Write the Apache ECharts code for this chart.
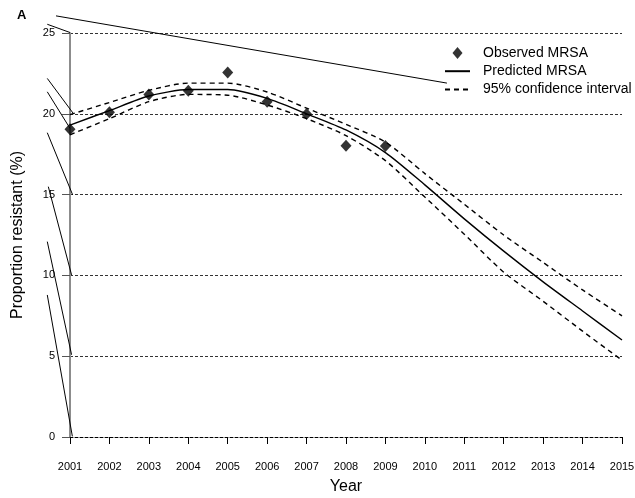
<!DOCTYPE html>
<html>
<head>
<meta charset="utf-8">
<script src="https://cdn.jsdelivr.net/npm/echarts@6/dist/echarts.min.js"></script>
<style>
html,body{margin:0;padding:0;background:#fff;}
#chart{width:635px;height:498px;}
</style>
</head>
<body>
<div id="chart"></div>
<script>
// ---- data ----
const years = [2001,2002,2003,2004,2005,2006,2007,2008,2009,2010,2011,2012,2013,2014,2015];
const observedYears = [2001,2002,2003,2004,2005,2006,2007,2008,2009];
const observed = [19.05,20.1,21.2,21.42,22.56,20.75,19.98,18.02,18.0];
const predicted = [19.3,20.2,21.1,21.5,21.5,20.95,20.0,19.0,17.6,15.6,13.5,11.5,9.6,7.8,6.0];
const upperCI = [19.95,20.7,21.45,21.9,21.9,21.35,20.35,19.35,18.25,16.3,14.4,12.5,10.8,9.1,7.5];
const lowerCI = [18.7,19.7,20.75,21.2,21.15,20.55,19.7,18.65,17.1,14.85,12.55,10.2,8.4,6.55,4.75];
const yTicks = [0,5,10,15,20,25];
// stray strokes present in the source image (data-space endpoints)
const strayStrokes = [
  [[2000.645,26.06],[2010.56,21.90]],
  [[2000.424,25.54],[2001.0,25.03]],
  [[2000.424,22.19],[2001.084,20.02]],
  [[2000.424,21.36],[2001.0,19.10]],
  [[2000.424,18.83],[2001.068,14.98]],
  [[2000.45,15.49],[2001.04,10.03]],
  [[2000.424,12.09],[2001.04,5.09]],
  [[2000.424,8.79],[2001.06,0.04]]
];

const pair = (xs, ys) => xs.map((x,i)=>[x, ys[i]]);
const FONT = "'Liberation Sans', Arial, sans-serif";

const chart = echarts.init(document.getElementById('chart'), null, {renderer:'canvas'});
chart.setOption({
  animation: false,
  backgroundColor: '#fff',
  textStyle: {fontFamily: FONT, color: '#000'},
  title: {
    text: 'A', left: 12, top: 4,
    textStyle: {fontFamily: FONT, fontSize: 13, fontWeight: 'bold', color: '#000'}
  },
  grid: {left: 70, right: 13, top: 33, bottom: 61, outerBoundsMode: 'none', containLabel: false},
  legend: {
    orient: 'vertical', left: 444, top: 46, padding: 0,
    itemWidth: 25, itemHeight: 12, itemGap: 4.2,
    symbolKeepAspect: true,
    textStyle: {fontFamily: FONT, fontSize: 14, color: '#000', padding: [0,0,0,8]},
    data: [
      {name: 'Observed MRSA', icon: 'path://M5,0 L10,6 L5,12 L0,6 Z', itemStyle: {color: '#000'}},
      {name: 'Predicted MRSA', itemStyle: {opacity: 0}},
      {name: '95% confidence interval', itemStyle: {opacity: 0}}
    ]
  },
  xAxis: {
    type: 'value', min: 2001, max: 2015, interval: 1,
    name: 'Year', nameLocation: 'middle', nameGap: 42,
    nameTextStyle: {fontFamily: FONT, fontSize: 16, color: '#000'},
    axisLine: {show: true, onZero: false, lineStyle: {color: '#000', width: 1, type: [3,2]}},
    axisTick: {show: true, length: 7, lineStyle: {color: '#000'}},
    axisLabel: {margin: 24, fontFamily: FONT, fontSize: 11, color: '#000', formatter: v => String(v)},
    splitLine: {show: false}
  },
  yAxis: {
    type: 'value', min: 0, max: 25, interval: 5,
    name: 'Proportion resistant (%)', nameLocation: 'middle', nameGap: 44,
    nameTextStyle: {fontFamily: FONT, fontSize: 16, color: '#000'},
    axisLine: {show: true, onZero: false, lineStyle: {color: '#8c8c8c', width: 2}},
    axisTick: {show: true, length: 8, lineStyle: {color: '#555'}},
    axisLabel: {margin: 15, fontFamily: FONT, fontSize: 11, color: '#000',
      formatter: v => yTicks.indexOf(v) >= 0 ? String(v) : ''},
    splitLine: {show: true, lineStyle: {color: '#333', width: 1, type: [3,2]}}
  },
  series: [
    {
      name: 'Observed MRSA', type: 'scatter', symbol: 'diamond', symbolSize: [11,12],
      itemStyle: {color: '#000'}, z: 5,
      data: pair(observedYears, observed)
    },
    {
      name: 'Predicted MRSA', type: 'line', symbol: 'none', smooth: 0.25,
      lineStyle: {color: '#000', width: 1.4}, itemStyle: {color: '#000'},
      data: pair(years, predicted)
    },
    {
      name: '95% confidence interval', type: 'line', symbol: 'none', smooth: 0.25,
      lineStyle: {color: '#000', width: 1.4, type: [5,4]}, itemStyle: {color: '#000'},
      data: pair(years, upperCI)
    },
    {
      name: '95% confidence interval', type: 'line', symbol: 'none', smooth: 0.25,
      lineStyle: {color: '#000', width: 1.4, type: [5,4]}, itemStyle: {color: '#000'},
      data: pair(years, lowerCI)
    },
    {
      name: 'strokes', type: 'lines', coordinateSystem: 'cartesian2d', clip: false, silent: true,
      polyline: false,
      lineStyle: {color: '#000', width: 1, opacity: 1, curveness: 0},
      data: strayStrokes.map(c => ({coords: c}))
    }
  ]
});
</script>
</body>
</html>
